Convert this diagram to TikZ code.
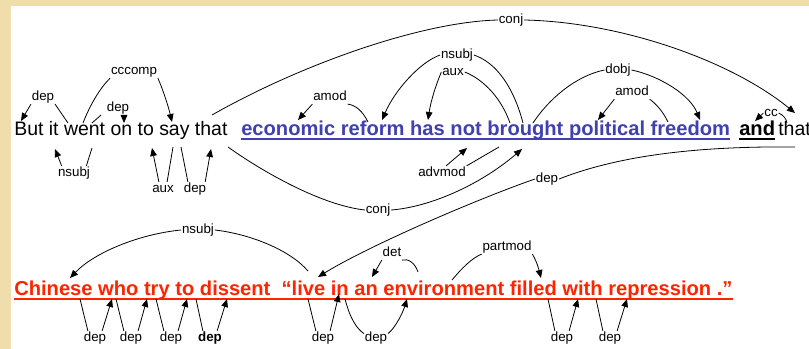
\documentclass[tikz,border=0pt]{standalone}
\usepackage{fontspec}
\setmainfont{Liberation Sans}
\usetikzlibrary{arrows.meta,calc}
\definecolor{bg}{RGB}{240,221,172}
\definecolor{blu}{RGB}{64,64,176}
\definecolor{rd}{RGB}{255,36,0}
\begin{document}
\begin{tikzpicture}[x=0.75pt,y=-0.75pt,
  lbl/.style={font=\fontsize{10}{12}\selectfont, inner sep=0.5pt, text height=7.2pt, text depth=2.1pt},
  arr/.style={-{Triangle[length=6pt,width=5pt]}},
  ln/.style={line width=0.6pt, black},
  reg/.style={anchor=base west, inner sep=0pt, font=\fontsize{14.6}{16}\selectfont},
  bld/.style={anchor=base west, inner sep=0pt, font=\fontsize{15.1}{17}\selectfont\bfseries},
  uline/.style={line width=1.5pt}]
\useasboundingbox (0,0) rectangle (809,349);
\fill[bg] (0,0) rectangle (809,349);
\fill[white] (11,6) rectangle (809,349);
\clip (0,0) rectangle (809,349);

% sentence text
\node[reg] (s1) at (14,136) {But it went on to say that};
\node[bld, text=blu] (s2) at (241,136) {economic reform has not brought political freedom};
\node[bld] (s3) at (739,136) {and};
\node[reg] (s4) at (778,136) {that};
\node[bld, text=rd] (s5) at (14,295.5) {Chinese who try to dissent\ \ “live in an environment filled with repression .”};
\draw[uline, blu] ($(s2.base west)+(0,3)$) -- ($(s2.base east)+(0,3)$);
\draw[uline, black] ($(s3.base west)+(0,3)$) -- ($(s3.base east)+(0,3)$);
\draw[uline, rd] ($(s5.base west)+(0,3)$) -- ($(s5.base east)+(0,3)$);

% attachment points, line 1 top
\coordinate (wentA) at (68,123);
\coordinate (ButT) at (21,121);
\coordinate (wentB) at (83,123);
\coordinate (sayT) at (172,122);
\coordinate (wentC) at (92,123);
\coordinate (onT) at (124,123);
\coordinate (thatA) at (212,115);
\coordinate (thatR) at (795,113);
\coordinate (broA) at (523,123);
\coordinate (reformT) at (382,120);
\coordinate (broB) at (510,123);
\coordinate (hasT) at (428,120);
\coordinate (reformB) at (368,122);
\coordinate (econT) at (298,120);
\coordinate (broC) at (533,123);
\coordinate (freeT) at (700,120);
\coordinate (freeB) at (668,122);
\coordinate (polT) at (598,120);
\coordinate (thatRB) at (787,123);
\coordinate (andT) at (755,121);
% line 1 bottom
\coordinate (wentD) at (92,148);
\coordinate (itB) at (55,149);
\coordinate (sayB) at (173,147);
\coordinate (toB) at (152,148);
\coordinate (sayC) at (181,147);
\coordinate (thatB) at (211,149);
\coordinate (thatC) at (228,147);
\coordinate (broD) at (522,149);
\coordinate (broE) at (499,147);
\coordinate (notB) at (467,148);
\coordinate (thatRC) at (795,147);
\coordinate (liveT) at (318,277);
% line 2 top
\coordinate (liveA) at (308,271);
\coordinate (ChinT) at (70,278);
\coordinate (envA) at (418,272);
\coordinate (anT) at (372,277);
\coordinate (envB) at (452,280);
\coordinate (fillT) at (541,278);
% line 2 bottom
\coordinate (ChinB) at (80,299);
\coordinate (whoB) at (112,299);
\coordinate (whoC) at (116,299);
\coordinate (tryB) at (147,299);
\coordinate (tryC) at (156,299);
\coordinate (toC) at (187,299);
\coordinate (toD) at (196,299);
\coordinate (dissB) at (227,299);
\coordinate (liveB) at (308,299);
\coordinate (inB) at (339,294);
\coordinate (inC) at (345,299);
\coordinate (envC) at (407,299);
\coordinate (fillB) at (548,299);
\coordinate (withB) at (578,299);
\coordinate (withC) at (596,299);
\coordinate (repB) at (627,299);

% labels
\node[lbl] (dA) at (43,97) {dep};
\node[lbl] (ccc) at (134,71) {cccomp};
\node[lbl] (dB) at (118,108) {dep};
\node[lbl] (conjA) at (511,20) {conj};
\node[lbl] (nsA) at (457,55) {nsubj};
\node[lbl] (auxA) at (453,72) {aux};
\node[lbl] (amA) at (330,97) {amod};
\node[lbl] (dobj) at (618,70) {dobj};
\node[lbl] (amB) at (632,92) {amod};
\node[lbl] (cc) at (771,113) {cc};
\node[lbl] (nsB) at (74,173) {nsubj};
\node[lbl] (auxB) at (163,189) {aux};
\node[lbl] (dC) at (195,189) {dep};
\node[lbl] (conjB) at (378,210) {conj};
\node[lbl] (adv) at (442,173) {advmod};
\node[lbl] (dD) at (547,179) {dep};
\node[lbl] (nsC) at (198,230) {nsubj};
\node[lbl] (det) at (392,253) {det};
\node[lbl] (pm) at (507,247) {partmod};
\node[lbl] (e1) at (95,338) {dep};
\node[lbl] (e2) at (131,338) {dep};
\node[lbl] (e3) at (171,338) {dep};
\node[lbl, font=\fontsize{10}{12}\selectfont\bfseries] (e4) at (210,338) {dep};
\node[lbl] (e5) at (323,338) {dep};
\node[lbl] (e6) at (376,338) {dep};
\node[lbl] (e7) at (562,338) {dep};
\node[lbl] (e8) at (610,338) {dep};

% line 1, above
\draw[ln] (wentA) -- (dA.south east);
\draw[ln,arr] (dA.south west) -- (ButT);
\draw[ln] (wentB) .. controls (90,105) and (100,88) .. (ccc.south west);
\draw[ln,arr] (ccc.south east) .. controls (163,90) and (168,105) .. (sayT);
\draw[ln] (wentC) -- ($(dB.south west)+(-5,0)$);
\draw[ln,arr] ($(dB.south)+(6,0)$) -- (onT);
\draw[ln] (thatA) .. controls (300,65) and (420,22) .. (conjA.west);
\draw[ln,arr] (conjA.east) .. controls (620,22) and (730,60) .. (thatR);
\draw[ln] (broA) .. controls (513,85) and (495,62) .. (nsA.east);
\draw[ln,arr] (nsA.west) .. controls (420,62) and (395,90) .. (reformT);
\draw[ln] (broB) .. controls (502,100) and (485,80) .. (auxA.east);
\draw[ln,arr] (auxA.west) .. controls (436,85) and (431,100) .. (hasT);
\draw[ln] (reformB) .. controls (362,110) and (355,105) .. (amA.south east);
\draw[ln,arr] (amA.south west) -- (econT);
\draw[ln] (broC) .. controls (548,100) and (575,76) .. (dobj.west);
\draw[ln,arr] (dobj.east) .. controls (660,76) and (690,95) .. (freeT);
\draw[ln] (freeB) .. controls (662,110) and (656,104) .. (amB.south east);
\draw[ln,arr] (amB.south west) -- (polT);
\draw[ln] (thatRB) .. controls (786,118) and (783,115) .. (cc.east);
\draw[ln,arr] (cc.west) -- (andT);

% line 1, below
\draw[ln] (wentD) -- (nsB.30);
\draw[ln,arr] (nsB.150) -- (itB);
\draw[ln] (sayB) -- (auxB.60);
\draw[ln,arr] (auxB.120) -- (toB);
\draw[ln] (sayC) -- (dC.135);
\draw[ln,arr] (dC.35) -- (thatB);
\draw[ln] (thatC) .. controls (260,170) and (320,205) .. (conjB.west);
\draw[ln,arr] (conjB.east) .. controls (430,207) and (480,185) .. (broD);
\draw[ln] (broE) -- (adv.north east);
\draw[ln,arr] (adv.60) -- (notB);
\draw[ln] (thatRC) .. controls (700,146) and (620,155) .. (dD.east);
\draw[ln,arr] (dD.west) .. controls (480,198) and (370,245) .. (liveT);

% line 2, above
\draw[ln] (liveA) .. controls (290,250) and (250,234) .. (nsC.east);
\draw[ln,arr] (nsC.west) .. controls (140,234) and (95,252) .. (ChinT);
\draw[ln] (envA) .. controls (415,263) and (408,258) .. (det.south east);
\draw[ln,arr] (det.south west) -- (anT);
\draw[ln] (envB) .. controls (462,268) and (472,258) .. (pm.south west);
\draw[ln,arr] (pm.south east) .. controls (537,262) and (539,270) .. (fillT);

% line 2, below
\draw[ln] (ChinB) -- (e1.135);
\draw[ln,arr] (e1.45) -- (whoB);
\draw[ln] (whoC) -- (e2.135);
\draw[ln,arr] (e2.45) -- (tryB);
\draw[ln] (tryC) -- (e3.135);
\draw[ln,arr] (e3.45) -- (toC);
\draw[ln] (toD) -- (e4.135);
\draw[ln,arr] (e4.45) -- (dissB);
\draw[ln] (liveB) -- (e5.135);
\draw[ln,arr] (e5.45) -- (inB);
\draw[ln] (inC) .. controls (350,318) and (356,328) .. (e6.160);
\draw[ln,arr] (e6.20) .. controls (396,327) and (403,312) .. (envC);
\draw[ln] (fillB) -- (e7.135);
\draw[ln,arr] (e7.45) -- (withB);
\draw[ln] (withC) -- (e8.135);
\draw[ln,arr] (e8.45) -- (repB);
\end{tikzpicture}
\end{document}
